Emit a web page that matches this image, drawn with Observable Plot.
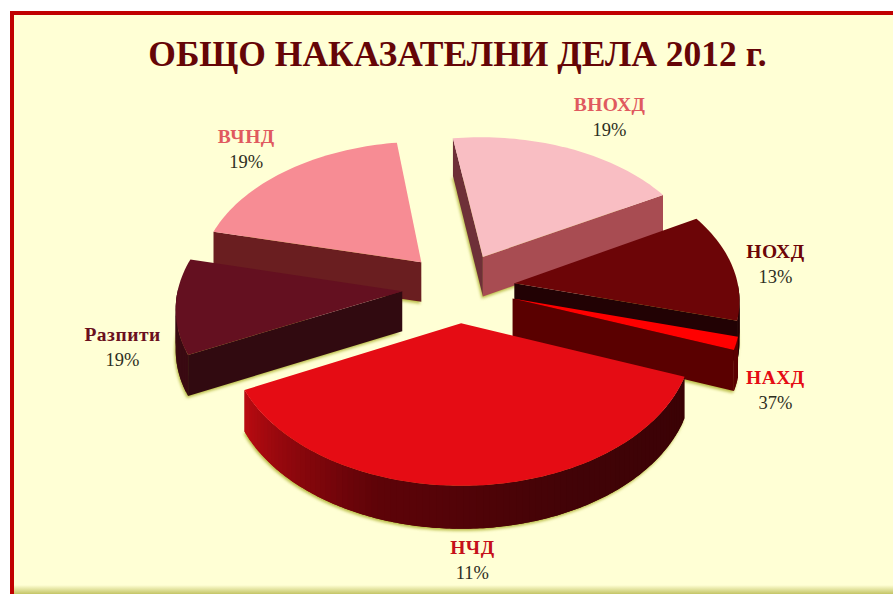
<!DOCTYPE html>
<html><head><meta charset="utf-8">
<script src="https://cdn.jsdelivr.net/npm/d3@7"></script>
<script src="https://cdn.jsdelivr.net/npm/@observablehq/plot@0.6"></script>
<style>
html,body{margin:0;padding:0;background:#fff;width:893px;height:594px;overflow:hidden}
#panel{position:absolute;left:10px;top:11px;right:0;bottom:0;border-left:4px solid #C00000;border-top:4px solid #C00000;
background:linear-gradient(to bottom,#FFFFD5 0,#FFFFD5 570px,#C4C566 579px);}
#title{position:absolute;left:0;top:33px;width:915px;text-align:center;margin:0;font:bold 35.5px "Liberation Serif",serif;color:#650507;}
#chart{position:absolute;left:0;top:0}
.nm text,text.nm{letter-spacing:.5px}
</style></head><body>
<div id="panel"></div>
<h1 id="title">ОБЩО НАКАЗАТЕЛНИ ДЕЛА 2012 г.</h1>
<div id="chart"></div>
<script>
const categories = ["ВНОХД","НОХД","НАХД","НЧД","Разпити","ВЧНД"];
const shares     = [19,12.5,1.5,37,11,19];      // slice sizes as drawn
const labelPct   = [19,13,37,11,19,19];         // percentages as printed
const topColors  = ["#F9BEC3","#6C0507","#FF0000","#E50C14","#641020","#F78C94"];
const startWall  = ["#6E3038","#220204","#5A0000","#5A0000","#310A10","#6A1E20"];
const endWall    = ["#A84C52","#220204","#5A0000","#3A0205","#310A10","#6A1E20"];
const outerWall  = [["#A84C52","#A84C52"],["#220204","#220204"],["#5A0000","#5A0000"],["#3A0205","#420307","#5E0308","#B80B11"],["#3A0A12","#3A0A12"],["#6A1E20","#6A1E20"]];
const nameColors = ["#E05A5F","#6C0507","#E50C14","#C5101A","#6A1020","#E05A5F"];
const labelAngle = [28.8,83.3,117.7,178.2,253.9,316.4];
const labelRadius= [1.406,1.431,1.605,1.979,1.568,1.38];
const paintOrder = [0,5,4,1,2,3];

const cx=458, cy=287, Rx=224, Ry=138, W=893, H=594;
const startDeg=-8, explode=0.252, persp=0.103, depth=0.29;
const rad=d=>d*Math.PI/180;
const proj=(u,v,z)=>{const s=1/(1-persp*v);return {x:u*s,y:v*s+z*(0.5+0.5*s)};};

const total=d3.sum(shares);
let acc=startDeg;
const slices=categories.map((c,i)=>{const a=acc,b=acc+shares[i]/total*360;acc=b;return {i,c,a,b,m:(a+b)/2};});

const polys=[];let pid=0;
const add=(pts,color,group)=>{const id=pid++;pts.forEach(p=>polys.push({x:p.x,y:p.y,id,color,group}));};
for(const k of paintOrder){
  const s=slices[k];
  const ou=explode*Math.sin(rad(s.m)),ov=-explode*Math.cos(rad(s.m));
  const P=(t,r,z)=>proj(ou+r*Math.sin(rad(t)),ov-r*Math.cos(rad(t)),z);
  const n=Math.max(4,Math.round((s.b-s.a)/1.5));
  const ts=d3.range(n+1).map(j=>s.a+(s.b-s.a)*j/n);
  const arc=ts.map(t=>P(t,1,0));
  add([P(s.a,0,depth),...ts.map(t=>P(t,1,depth))],"#B9BC45","shadow");
  if(Math.sin(rad(s.a))<0) add([P(s.a,0,0),P(s.a,1,0),P(s.a,1,depth),P(s.a,0,depth)],startWall[k],"body");
  if(Math.sin(rad(s.b))>0) add([P(s.b,0,0),P(s.b,1,0),P(s.b,1,depth),P(s.b,0,depth)],endWall[k],"body");
  const ramp=d3.piecewise(d3.interpolateRgb,outerWall[k]);
  for(let j=0;j<n;j++){
    const t0=ts[j],t1=ts[Math.min(j+2,n)];
    if(Math.cos(rad((ts[j]+ts[j+1])/2))>0) continue;      // only the wall facing the viewer
    const tt=d3.range(0,5).map(q=>t0+(t1-t0)*q/4);
    add([...tt.map(t=>P(t,1,0)),...tt.reverse().map(t=>P(t,1,depth))],d3.rgb(ramp(j/(n-1||1))).formatHex(),"body");
  }
  add([P(s.a,0,0),...arc],topColors[k],"body");
}
const labels=slices.map((s,i)=>({name:s.c,pct:labelPct[i]+"%",color:nameColors[i],
  x:labelRadius[i]*Math.sin(rad(labelAngle[i]))*223/Rx,y:-labelRadius[i]*Math.cos(rad(labelAngle[i]))}));

const chart=Plot.plot({
  width:W,height:H,margin:0,
  style:{background:"transparent",overflow:"visible"},
  x:{domain:[-cx/Rx,(W-cx)/Rx],range:[0,W],axis:null},
  y:{domain:[-cy/Ry,(H-cy)/Ry],range:[0,H],axis:null},
  marks:[
    Plot.line(polys.filter(d=>d.group==="shadow"),{x:"x",y:"y",z:"id",fill:"#B9BC45",stroke:null,dx:-1,dy:2,imageFilter:"blur(1.5px)",curve:"linear"}),
    Plot.line(polys.filter(d=>d.group==="body"),{x:"x",y:"y",z:"id",fill:"color",stroke:null,curve:"linear"}),
    Plot.text(labels,{x:"x",y:"y",text:"name",fill:"color",dy:-12.5,fontSize:19.5,fontWeight:"bold",fontFamily:"Liberation Serif",className:"nm"}),
    Plot.text(labels,{x:"x",y:"y",text:"pct",fill:"#2E2E1E",dy:12.5,fontSize:18.5,fontFamily:"Liberation Serif"})
  ]
});
document.getElementById("chart").appendChild(chart);
</script></body></html>
